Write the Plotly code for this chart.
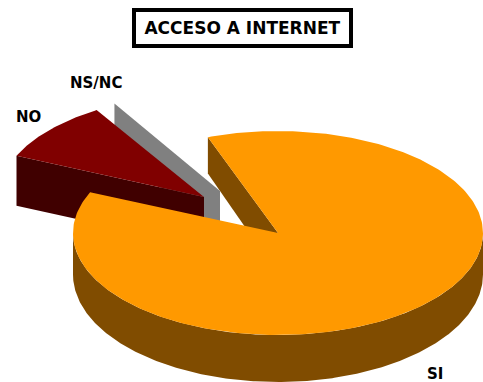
import numpy as np
import plotly.graph_objects as go

# Survey shares (percent of the sweep) and labels
categories = ["SI", "NO", "NS/NC"]
shares = [87.1, 9.6, 0.3]
# Angle of each slice's leading edge, degrees counter-clockwise from twelve o'clock
lead_angles = [20.0, 31.6, 31.0]

TOP_COLORS = {"SI": "#FF9900", "NO": "#800000", "NS/NC": "#808080"}
WALL_COLORS = {"SI": "#804C00", "NO": "#400000", "NS/NC": "#808080"}

# Tilted pie geometry in page pixels
RX, RY = 205.0, 102.0
CENTERS = {"SI": (278.0, 233.0), "NO": (204.0, 197.0), "NS/NC": (220.0, 191.0)}
DEPTHS = {"SI": (36.0, 47.0), "NO": (50.0, 50.0), "NS/NC": (46.0, 46.0)}


def rim(name, a):
    """Point on a slice's rim at angle a (deg CCW from twelve o'clock)."""
    cx, cy = CENTERS[name]
    r = np.radians(a)
    return cx - RX * np.sin(r), cy - RY * np.cos(r)


def depth_at(name, y):
    cy = CENTERS[name][1]
    back, front = DEPTHS[name]
    frac = np.clip((y - (cy - RY)) / (2 * RY), 0, 1)
    return back + (front - back) * frac


def poly(xs, ys, color):
    return go.Scatter(x=list(xs), y=list(ys), mode="lines", fill="toself",
                      fillcolor=color, line=dict(width=0, color=color),
                      hoverinfo="skip", showlegend=False)


def sweep_of(name):
    i = categories.index(name)
    a0 = lead_angles[i]
    return a0, a0 + shares[i] * 3.6


def top_face(name):
    a0, a1 = sweep_of(name)
    # clockwise sweep runs towards smaller angles for SI, larger for the others
    if name == "SI":
        t = np.linspace(a0, a0 - shares[0] * 3.6, 300)
    else:
        t = np.linspace(a0, a1, 60)
    x, y = rim(name, t)
    cx, cy = CENTERS[name]
    return poly(np.r_[cx, x, cx], np.r_[cy, y, cy], TOP_COLORS[name])


def radial_wall(name, a):
    cx, cy = CENTERS[name]
    x, y = rim(name, a)
    dc, dr = depth_at(name, cy), depth_at(name, y)
    return poly([cx, x, x, cx, cx], [cy, y, y + dr, cy + dc, cy], WALL_COLORS[name])


def outer_wall(name):
    t = np.linspace(90, 270, 300)
    x, y = rim(name, t)
    d = depth_at(name, y)
    return poly(np.r_[x, x[::-1]], np.r_[y, (y + d)[::-1]], WALL_COLORS[name])


fig = go.Figure()
fig.add_trace(radial_wall("SI", lead_angles[0]))
fig.add_trace(radial_wall("NS/NC", lead_angles[2]))
fig.add_trace(radial_wall("NO", lead_angles[1] + shares[1] * 3.6))
fig.add_trace(top_face("NO"))
fig.add_trace(outer_wall("SI"))
fig.add_trace(top_face("SI"))

FONT = "DejaVu Sans"
label_xy = {"SI": (435, 374), "NO": (28, 117), "NS/NC": (96, 83)}
label_size = {"SI": 15, "NO": 15, "NS/NC": 15}
for name in categories:
    lx, ly = label_xy[name]
    fig.add_annotation(x=lx, y=ly, text=f"<b>{name}</b>", showarrow=False,
                       font=dict(family=FONT, size=label_size[name], color="black"))

fig.add_annotation(x=242.5, y=28, text="<b>ACCESO A INTERNET</b>", showarrow=False,
                   font=dict(family=FONT, size=17, color="black"),
                   bgcolor="white", bordercolor="black", borderwidth=4,
                   width=211, height=30)

fig.update_layout(
    width=483, height=382, margin=dict(l=0, r=0, t=0, b=0),
    paper_bgcolor="white", plot_bgcolor="white", showlegend=False,
    xaxis=dict(range=[0, 483], visible=False, fixedrange=True),
    yaxis=dict(range=[382, 0], visible=False, fixedrange=True),
)
fig.write_html("out.html", config={"displayModeBar": False})
